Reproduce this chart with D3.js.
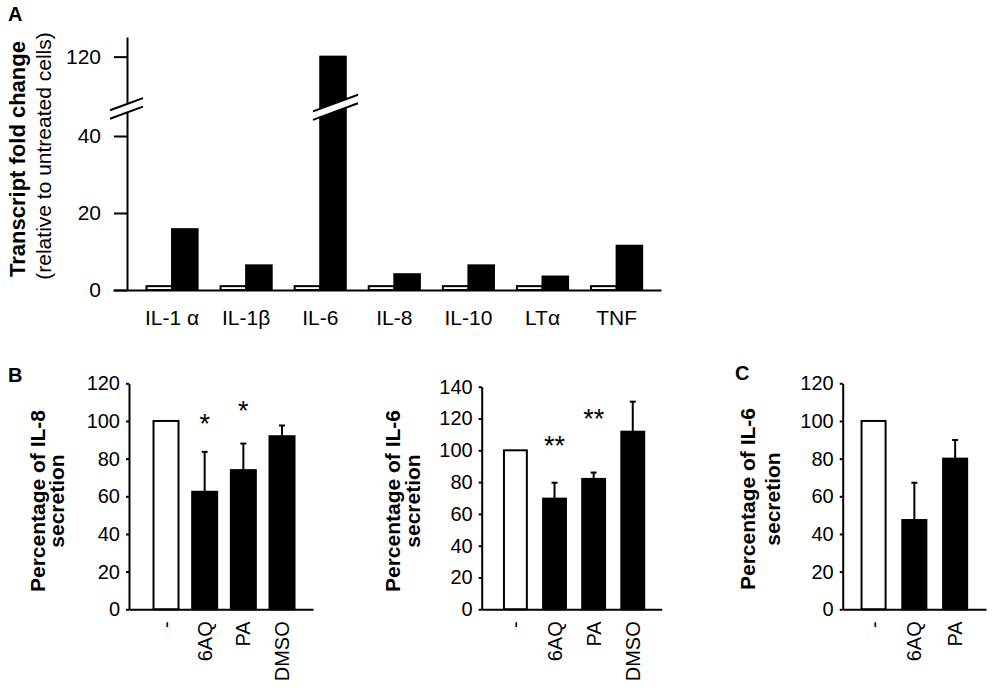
<!DOCTYPE html>
<html>
<head>
<meta charset="utf-8">
<script src="https://cdn.jsdelivr.net/npm/d3@7"></script>
<style>
  body { margin: 0; background: #fff; }
  text { font-family: "Liberation Sans", Arial, sans-serif; fill: #000; }
</style>
</head>
<body>
<svg id="chart" width="992" height="693"></svg>
<script>
// ---- panel A: transcript fold change ----
const CYTOKINES = ["IL-1 α", "IL-1β", "IL-6", "IL-8", "IL-10", "LTα", "TNF"];
const FOLD_UNTREATED = [1, 1, 1, 1, 1, 1, 1];
const FOLD_TREATED = [15.8, 6.4, 120, 4.1, 6.4, 3.5, 11.5];
const FOLD_TICKS_LOW = [0, 20, 40];
const FOLD_TICKS_HIGH = [120];

// ---- panel B: IL-8 secretion ----
const IL8_GROUPS = ["-", "6AQ", "PA", "DMSO"];
const IL8_VALUES = [100, 62.4, 73.9, 91.9];
const IL8_SEM = [0, 21.2, 14.1, 5.7];
const IL8_STARS = ["", "*", "*", ""];
const IL8_STAR_LEVEL = [0, 102, 108.5, 0];
const IL8_TICKS = [0, 20, 40, 60, 80, 100, 120];

// ---- panel B: IL-6 secretion ----
const IL6B_GROUPS = ["-", "6AQ", "PA", "DMSO"];
const IL6B_VALUES = [100, 69.6, 82, 111.7];
const IL6B_SEM = [0, 10, 4, 18.9];
const IL6B_STARS = ["", "**", "**", ""];
const IL6B_STAR_LEVEL = [0, 106.5, 123.6, 0];
const IL6B_TICKS = [0, 20, 40, 60, 80, 100, 120, 140];

// ---- panel C: IL-6 secretion ----
const IL6C_GROUPS = ["-", "6AQ", "PA"];
const IL6C_VALUES = [100, 47.4, 80];
const IL6C_SEM = [0, 19.8, 9.9];
const IL6C_STARS = ["", "", ""];
const IL6C_STAR_LEVEL = [0, 0, 0];
const IL6C_TICKS = [0, 20, 40, 60, 80, 100, 120];

const svg = d3.select("#chart");
const LINE_W = 2;

function styleAxis(g, fontSize) {
    g.attr("font-size", fontSize);
    g.select(".domain").attr("stroke", "#000").attr("stroke-width", LINE_W);
    g.selectAll(".tick line").attr("stroke", "#000").attr("stroke-width", LINE_W);
    g.selectAll(".tick text").attr("fill", "#000");
}

function panelLetter(letter, x, y) {
    svg.append("text")
        .attr("x", x).attr("y", y)
        .attr("font-size", 20).attr("font-weight", "bold")
        .text(letter);
}

// ================= panel A =================
const aAxisX = 127;
const aY0 = 290;
const pxPerUnit = 3.85;
const lowMax = 46.1;

const yLow = d3.scaleLinear().domain([0, lowMax]).range([aY0, aY0 - lowMax * pxPerUnit]);
const yHigh = d3.scaleLinear().domain([107.7, 125.1]).range([104, 37]);
const yFold = v => v <= lowMax ? yLow(v) : yHigh(v);

const x0 = d3.scaleBand()
    .domain(CYTOKINES)
    .range([113, 661])
    .paddingInner(0.31)
    .paddingOuter(0.353)
    .align(0.64);

const x1 = d3.scaleBand()
    .domain(["untreated", "treated"])
    .range([0, x0.bandwidth()]);

const foldRows = CYTOKINES.map((c, i) => ({
    cytokine: c,
    bars: [
        { key: "untreated", value: FOLD_UNTREATED[i] },
        { key: "treated", value: FOLD_TREATED[i] }
    ]
}));

const aPlot = svg.append("g");

aPlot.selectAll(".group")
    .data(foldRows)
    .join("g")
    .attr("class", "group")
    .attr("transform", d => `translate(${x0(d.cytokine)},0)`)
    .selectAll("rect")
    .data(d => d.bars)
    .join("rect")
    .attr("x", d => x1(d.key))
    .attr("width", x1.bandwidth())
    .attr("y", d => yFold(d.value))
    .attr("height", d => aY0 - yFold(d.value))
    .attr("fill", d => d.key === "untreated" ? "#fff" : "#000")
    .attr("stroke", "#000")
    .attr("stroke-width", LINE_W);

// axis break marks
const slope = -0.37;
const breakUpper = yHigh.range()[0];
const breakLower = yLow.range()[1];

function breakMark(cx, left, right) {
    const g = svg.append("g");
    const yAt = (base, xx) => base + slope * (xx - cx);
    g.append("path")
        .attr("d", `M${cx - left},${yAt(breakUpper, cx - left)}L${cx + right},${yAt(breakUpper, cx + right)}` +
            `L${cx + right},${yAt(breakLower, cx + right)}L${cx - left},${yAt(breakLower, cx - left)}Z`)
        .attr("fill", "#fff");
    [breakUpper, breakLower].forEach(base => {
        g.append("line")
            .attr("x1", cx - left).attr("y1", yAt(base, cx - left))
            .attr("x2", cx + right).attr("y2", yAt(base, cx + right))
            .attr("stroke", "#000").attr("stroke-width", LINE_W);
    });
}

// broken bars
foldRows.forEach(row => {
    row.bars.filter(b => b.value > lowMax).forEach(b => {
        const cx = x0(row.cytokine) + x1(b.key) + x1.bandwidth() / 2;
        breakMark(cx, 20, 25);
    });
});

// y axes (two segments)
svg.append("g")
    .attr("transform", `translate(${aAxisX},0)`)
    .call(d3.axisLeft(yLow).tickValues(FOLD_TICKS_LOW).tickSize(13).tickPadding(13).tickSizeOuter(0))
    .call(g => styleAxis(g, 21));

svg.append("g")
    .attr("transform", `translate(${aAxisX},0)`)
    .call(d3.axisLeft(yHigh).tickValues(FOLD_TICKS_HIGH).tickSize(13).tickPadding(13).tickSizeOuter(0))
    .call(g => styleAxis(g, 21));

breakMark(aAxisX, 17, 16);

// x axis with category labels
svg.append("g")
    .attr("transform", `translate(0,${aY0})`)
    .call(d3.axisBottom(x0).tickSize(0).tickSizeOuter(0).tickPadding(20))
    .call(g => styleAxis(g, 21));

svg.append("text")
    .attr("transform", "translate(17,159) rotate(-90)")
    .attr("text-anchor", "middle").attr("dy", "0.35em")
    .attr("font-size", 22).attr("font-weight", "bold")
    .text("Transcript fold change");

svg.append("text")
    .attr("transform", "translate(44,156) rotate(-90)")
    .attr("text-anchor", "middle").attr("dy", "0.35em")
    .attr("font-size", 21)
    .text("(relative to untreated cells)");

panelLetter("A", 8, 21);

// ================= panels B and C =================
function drawSecretionPanel(data, layout) {
    const g = svg.append("g");

    const x = d3.scaleBand()
        .domain(data.groups)
        .range([layout.axisX, layout.xEnd])
        .paddingInner(layout.padInner)
        .paddingOuter(layout.padOuter)
        .align(layout.align);

    const y = d3.scaleLinear()
        .domain([0, d3.max(data.ticks)])
        .range([layout.y0, layout.yTop]);

    const rows = data.groups.map((grp, i) => ({
        group: grp, value: data.values[i], sem: data.sem[i],
        star: data.stars[i], starLevel: data.starLevel[i], control: i === 0
    }));

    g.selectAll(".bar")
        .data(rows)
        .join("rect")
        .attr("class", "bar")
        .attr("x", d => x(d.group))
        .attr("width", x.bandwidth())
        .attr("y", d => y(d.value))
        .attr("height", d => y(0) - y(d.value))
        .attr("fill", d => d.control ? "#fff" : "#000")
        .attr("stroke", "#000")
        .attr("stroke-width", LINE_W);

    // error bars (upper only)
    const err = rows.filter(d => d.sem > 0);
    const cx = d => x(d.group) + x.bandwidth() / 2;
    g.selectAll(".err")
        .data(err)
        .join("line")
        .attr("x1", cx).attr("x2", cx)
        .attr("y1", d => y(d.value))
        .attr("y2", d => y(d.value + d.sem))
        .attr("stroke", "#000").attr("stroke-width", LINE_W);
    g.selectAll(".cap")
        .data(err)
        .join("line")
        .attr("x1", d => cx(d) - 3).attr("x2", d => cx(d) + 3)
        .attr("y1", d => y(d.value + d.sem))
        .attr("y2", d => y(d.value + d.sem))
        .attr("stroke", "#000").attr("stroke-width", LINE_W);

    // significance stars
    g.selectAll(".star")
        .data(rows.filter(d => d.star))
        .join("text")
        .attr("x", cx)
        .attr("y", d => y(d.starLevel))
        .attr("dy", "0.57em")
        .attr("text-anchor", "middle")
        .attr("font-size", 27)
        .text(d => d.star);

    g.append("g")
        .attr("transform", `translate(${layout.axisX},0)`)
        .call(d3.axisLeft(y).tickValues(data.ticks).tickSize(3).tickPadding(6).tickSizeOuter(0))
        .call(a => styleAxis(a, 20));

    g.append("g")
        .attr("transform", `translate(0,${layout.y0})`)
        .call(d3.axisBottom(x).tickSize(0).tickSizeOuter(0))
        .call(a => styleAxis(a, 20))
        .call(a => a.selectAll(".tick text")
            .attr("transform", "rotate(-90)")
            .attr("text-anchor", "end")
            .attr("x", -12)
            .attr("y", 0)
            .attr("dy", "0.35em"));

    data.label.forEach((line, i) => {
        g.append("text")
            .attr("transform", `translate(${layout.labelX[i]},${layout.labelY}) rotate(-90)`)
            .attr("text-anchor", "middle").attr("dy", "0.35em")
            .attr("font-size", 21).attr("font-weight", "bold")
            .text(line);
    });
}

drawSecretionPanel(
    { groups: IL8_GROUPS, values: IL8_VALUES, sem: IL8_SEM, stars: IL8_STARS,
      starLevel: IL8_STAR_LEVEL, ticks: IL8_TICKS, label: ["Percentage of IL-8", "secretion"] },
    { axisX: 129, xEnd: 313, y0: 609.3, yTop: 383.3, padInner: 0.354, padOuter: 0.556, align: 0.57,
      labelX: [38, 57], labelY: 501 }
);

drawSecretionPanel(
    { groups: IL6B_GROUPS, values: IL6B_VALUES, sem: IL6B_SEM, stars: IL6B_STARS,
      starLevel: IL6B_STAR_LEVEL, ticks: IL6B_TICKS, label: ["Percentage of IL-6", "secretion"] },
    { axisX: 481.7, xEnd: 661.7, y0: 609.3, yTop: 386.7, padInner: 0.415, padOuter: 0.508, align: 0.56,
      labelX: [393, 413], labelY: 501 }
);

drawSecretionPanel(
    { groups: IL6C_GROUPS, values: IL6C_VALUES, sem: IL6C_SEM, stars: IL6C_STARS,
      starLevel: IL6C_STAR_LEVEL, ticks: IL6C_TICKS, label: ["Percentage of IL-6", "secretion"] },
    { axisX: 842.7, xEnd: 986, y0: 609.3, yTop: 383.3, padInner: 0.41, padOuter: 0.462, align: 0.5,
      labelX: [748, 773], labelY: 499 }
);

panelLetter("B", 8, 382);
panelLetter("C", 735, 380);
</script>
</body>
</html>
